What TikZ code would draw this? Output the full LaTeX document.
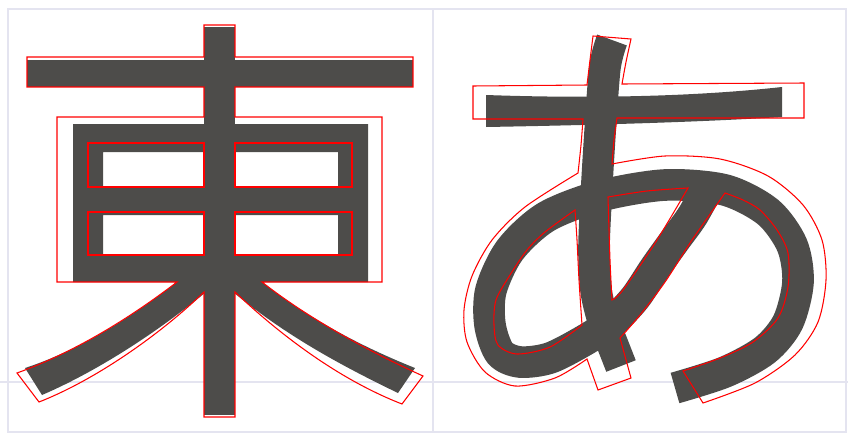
\documentclass[tikz,border=0pt]{standalone}
\definecolor{ink}{RGB}{77,76,74}
\definecolor{guide}{RGB}{228,228,240}
\tikzset{
  inkfill/.style={fill=ink},
  inkpen/.style={draw=ink, line width=#1},
  redline/.style={draw=red, line width=0.6pt},
  guideline/.style={draw=guide, line width=0.6pt}
}
\begin{document}
\begin{tikzpicture}[x=0.02cm, y=-0.02cm]
\useasboundingbox (0,0) rectangle (848,433);
% guides
\draw[guideline] (8,9) rectangle (846,432);
\draw[guideline] (433,9) -- (433,432);
\draw[guideline] (0,382) -- (848,382);

% east, strokes
\fill[inkfill] (27,60) rectangle (413,87);
\fill[inkfill] (204,27) rectangle (235,415);
\fill[inkfill, even odd rule] (73,124) rectangle (368,282)
  (103,152) rectangle (338,188) (103,215) rectangle (338,254);
\fill[inkfill] (177,282) .. controls (130,318) and (80,350) .. (25,368) -- (42,395)
  .. controls (100,370) and (160,330) .. (206,292) -- (206,280) -- cycle;
\fill[inkfill] (262,282) .. controls (300,312) and (350,342) .. (415,368) -- (398,393)
  .. controls (340,365) and (285,335) .. (233,292) -- (233,280) -- cycle;

% east, outline
\draw[redline] (204,25) -- (235,25) -- (235,57) -- (413,57) -- (413,87) -- (235,87)
  -- (235,117) -- (382,117) -- (382,282) -- (262,282)
  .. controls (300,312) and (355,345) .. (423,376) -- (402,404)
  .. controls (335,378) and (275,330) .. (235,292) -- (235,417) -- (204,417) -- (204,292)
  .. controls (165,330) and (100,378) .. (39,402) -- (17,373)
  .. controls (75,352) and (130,318) .. (177,282) -- (57,282) -- (57,117) -- (204,117)
  -- (204,87) -- (27,87) -- (27,57) -- (204,57) -- cycle;
\draw[redline] (88,143) rectangle (204,187) (235,143) rectangle (352,187)
  (88,212) rectangle (204,255) (235,212) rectangle (352,255);

% a, strokes
\fill[inkfill] (486,95) .. controls (600,99) and (700,96) .. (782,87) -- (782,117)
  .. controls (700,122) and (600,125) .. (486,127) -- cycle;
\draw[inkpen=18pt] plot[smooth] coordinates {(612,40) (605,67) (600,133) (596,200)
  (594,250) (596,290) (603,320) (612,343) (621,366)};
\draw[inkpen=18pt] plot[smooth] coordinates {(712,180) (693,215) (675,240) (655,268)
  (635,298) (612,322) (585,340) (550,358) (520,362) (500,353) (490,325) (491,290)
  (510,250) (546,217) (600,196) (665,185) (725,190) (768,212) (792,245) (798,282)
  (788,322) (765,350) (725,372) (675,388)};

% a, outline
\draw[redline] (593,36) -- (631,39)
  -- plot[smooth] coordinates {(631,39) (626,62) (622,84)}
  -- (804,83) -- (804,118) -- (617,118)
  -- plot[smooth] coordinates {(617,118) (614,140) (612,164)}
  -- plot[smooth] coordinates {(612,164) (665,156) (720,159) (768,176) (803,205)
     (822,240) (826,280) (818,322) (795,355) (755,383) (703,403)}
  -- (683,371)
  -- plot[smooth] coordinates {(683,371) (720,358) (753,342) (778,318) (788,287)
     (788,253) (777,230) (760,210) (743,200) (725,193)}
  -- plot[smooth] coordinates {(725,193) (692,240) (665,282) (640,315) (620,338)}
  -- (631,378) -- (598,390) -- (587,359)
  -- plot[smooth] coordinates {(587,359) (555,378) (515,386) (485,372) (467,342)
     (464,310) (472,276) (492,240) (525,207) (578,173)}
  -- plot[smooth] coordinates {(578,173) (581,145) (583,119)}
  -- (473,119) -- (473,86) -- (587,85)
  -- plot[smooth] coordinates {(587,85) (590,60) (593,36)} -- cycle;
\draw[redline] plot[smooth] coordinates {(575,210) (545,232) (527,250) (510,275)
  (496,300) (494,325) (498,345) (517,354) (550,347) (582,325)}
  -- plot[smooth] coordinates {(582,325) (579,280) (577,240) (575,210)} -- cycle;
\draw[redline] plot[smooth] coordinates {(608,197) (647,191) (688,188)}
  -- plot[smooth] coordinates {(688,188) (657,240) (623,290) (612,300)}
  -- plot[smooth] coordinates {(612,300) (610,260) (608,197)} -- cycle;
\end{tikzpicture}
\end{document}
